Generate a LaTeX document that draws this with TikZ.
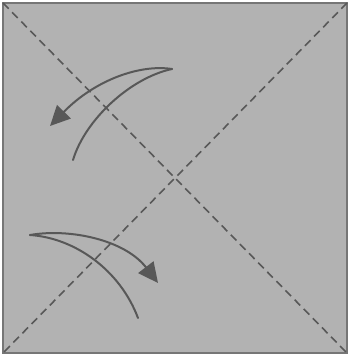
\documentclass[tikz,border=0pt]{standalone}
\usepackage{tikz}
\usetikzlibrary{arrows.meta, calc}

\definecolor{paper}{RGB}{178,178,178}
\definecolor{rim}{RGB}{118,118,118}
\definecolor{ink}{RGB}{88,88,88}

\begin{document}
\begin{tikzpicture}[
    x=1pt, y=-1pt,
    sheet/.style={fill=paper, draw=rim, line width=2.5pt},
    fold/.style={draw=ink, line width=1.6pt, dash pattern=on 8pt off 5pt},
    turn/.style={draw=ink, line width=2pt, line cap=round},
    turnhead/.style={turn, -{Triangle[length=20pt, width=19pt]}}
]
\useasboundingbox[fill=white] (0,0) rectangle (350,357);

% --- Square sheet ---
\coordinate (nw) at (3,3);
\coordinate (ne) at (347,3);
\coordinate (se) at (347,353);
\coordinate (sw) at (3,353);
\draw[sheet] (nw) rectangle (se);

% --- Fold lines (diagonals) ---
\draw[fold] (nw)--(se);
\draw[fold] (ne)--(sw);

% --- Upper turn arrow ---
\coordinate (a1) at (172,69);
\coordinate (a1tip) at (50,126);
\coordinate (a1end) at (73,160);
\draw[turnhead] (a1) .. controls (140,64) and (95,80) .. (a1tip);
\draw[turn] (a1) .. controls (130,78) and (85,120) .. (a1end);

% --- Lower turn arrow ---
\coordinate (b1) at (30,235);
\coordinate (b1tip) at (158,283);
\coordinate (b1end) at (138,318);
\draw[turnhead] (b1) .. controls (70,228) and (125,240) .. (b1tip);
\draw[turn] (b1) .. controls (75,238) and (120,270) .. (b1end);

\end{tikzpicture}
\end{document}
